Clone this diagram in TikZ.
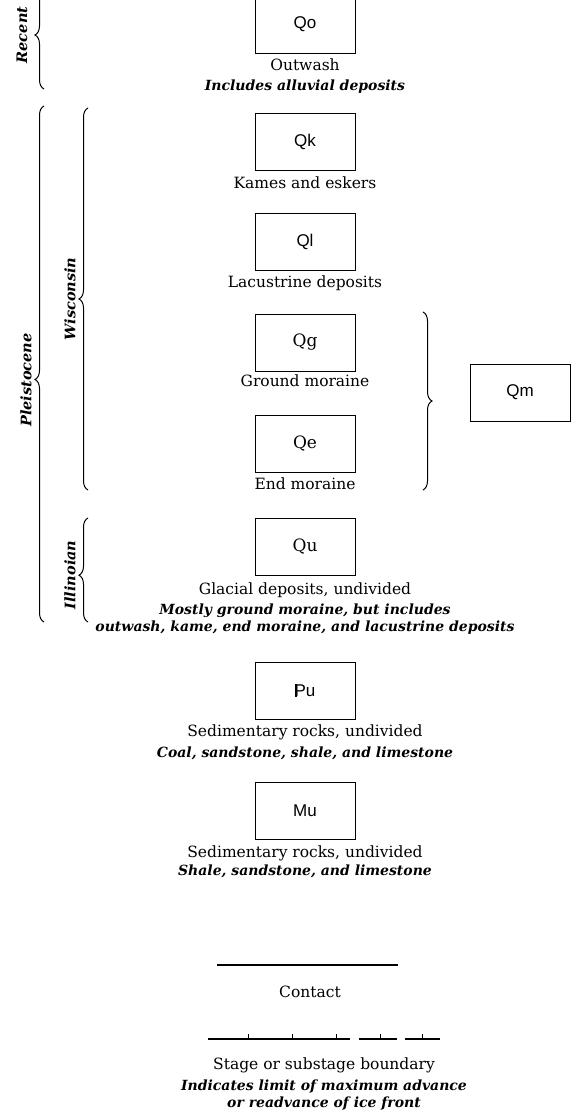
\documentclass[tikz,border=0pt]{standalone}
\usepackage{fontspec}
\setmainfont{DejaVu Serif}
\setsansfont{Liberation Sans}
\usetikzlibrary{decorations.pathreplacing}

\begin{document}
\begin{tikzpicture}[x=1pt, y=-1pt,
	unitbox/.style={draw, line width=0.9pt, minimum width=100pt, minimum height=57pt, inner sep=0pt, font=\fontsize{17}{17}\selectfont\sffamily},
	serifbox/.style={unitbox, font=\fontsize{17}{17}\selectfont\rmfamily},
	unittext/.style={inner sep=0pt, font=\fontsize{15.5}{17}\selectfont},
	unitnote/.style={inner sep=0pt, align=center, font=\fontsize{14}{17}\selectfont\bfseries\itshape},
	agetext/.style={inner sep=0pt, rotate=90, font=\fontsize{14.5}{15}\selectfont\bfseries\itshape},
	agebrace/.style={decorate, decoration={brace, amplitude=9pt}, line width=1pt}]
	\useasboundingbox (0,0) rectangle (571,1116);

	% map units
	\node [unitbox] (qo) at (305,24.5) {Qo};
	\node [unittext] (qotext) at (305,65) {Outwash};
	\node [unitnote] (qonote) at (305,87) {Includes alluvial deposits};

	\node [unitbox] (qk) at (305,141.5) {Qk};
	\node [unittext] (qktext) at (305,183) {Kames and eskers};

	\node [unitbox] (ql) at (305,242) {Ql};
	\node [unittext] (qltext) at (305,283) {Lacustrine deposits};

	\node [serifbox] (qg) at (305,342.5) {Qg};
	\node [unittext] (qgtext) at (305,381) {Ground moraine};

	\node [serifbox] (qe) at (305,444) {Qe};
	\node [unittext] (qetext) at (305,484) {End moraine};

	\node [unitbox] (qm) at (520,392.5) {Qm};

	\node [serifbox] (qu) at (305,546.5) {Qu};
	\node [unittext] (qutext) at (305,590) {Glacial deposits, undivided};
	\node [unitnote] (qunote) at (305,619.5) {Mostly ground moraine, but includes\\outwash, kame, end moraine, and lacustrine deposits};

	\node [unitbox] (pu) at (305,690.5) {\rlap{\kern0.2pt\rule{2.6pt}{0.716em}}Pu};
	\node [unittext] (putext) at (305,732) {Sedimentary rocks, undivided};
	\node [unitnote] (punote) at (305,753) {Coal, sandstone, shale, and limestone};

	\node [unitbox] (mu) at (305,810.5) {Mu};
	\node [unittext] (mutext) at (305,853) {Sedimentary rocks, undivided};
	\node [unitnote] (munote) at (305,871) {Shale, sandstone, and limestone};

	% ages
	\coordinate (recbot) at (44,89);
	\coordinate (rectop) at (44,-19);
	\draw [agebrace] (recbot) -- (rectop);
	\node [agetext] (recent) at (22,35) {Recent};

	\coordinate (plebot) at (44,622);
	\coordinate (pletop) at (44,106);
	\draw [agebrace, decoration={aspect=0.47}] (plebot) -- (pletop);
	\node [agetext] (pleistocene) at (26,380) {Pleistocene};

	\coordinate (wisbot) at (88,490);
	\coordinate (wistop) at (88,108);
	\draw [agebrace] (wisbot) -- (wistop);
	\node [agetext] (wisconsin) at (70,299) {Wisconsin};

	\coordinate (illbot) at (88,622);
	\coordinate (illtop) at (88,518);
	\draw [agebrace, decoration={aspect=0.45}] (illbot) -- (illtop);
	\node [agetext] (illinoian) at (70,575) {Illinoian};

	\coordinate (qmtop) at (423,312);
	\coordinate (qmbot) at (423,490);
	\draw [agebrace] (qmtop) -- (qmbot);

	% lines
	\coordinate (con1) at (217,965);
	\coordinate (con2) at (398,965);
	\draw [line width=1.2pt] (con1) -- (con2);
	\node [unittext] (contact) at (310,992) {Contact};

	\coordinate (st1) at (208,1039);
	\coordinate (st2) at (350,1039);
	\coordinate (st3) at (359,1039);
	\coordinate (st4) at (397,1039);
	\coordinate (st5) at (405,1039);
	\coordinate (st6) at (440,1039);
	\draw [line width=1.2pt] (st1) -- (st2) (st3) -- (st4) (st5) -- (st6);
	\foreach \t in {248,292,336,380,422}
		\draw [line width=1pt] (\t,1039) -- ++(0,-5);
	\node [unittext] (stage) at (324,1065) {Stage or substage boundary};
	\node [unitnote] (stagenote) at (324,1095) {Indicates limit of maximum advance\\or readvance of ice front};
\end{tikzpicture}
\end{document}
